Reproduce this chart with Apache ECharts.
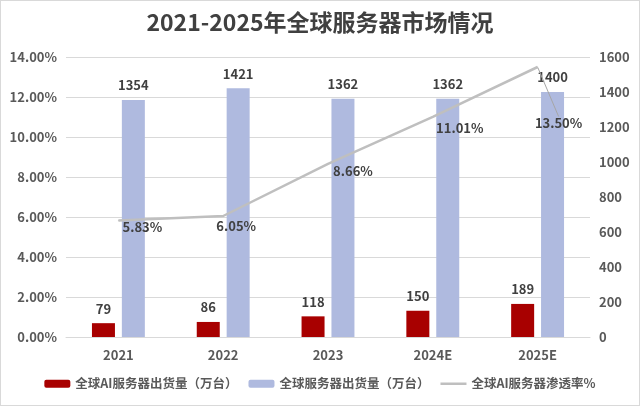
<!DOCTYPE html>
<html><head><meta charset="utf-8">
<script src="https://cdn.jsdelivr.net/npm/echarts@6/dist/echarts.min.js"></script>
<style>html,body{margin:0;padding:0;background:#fff}#c{width:638px;height:404px;border:1px solid #d9d9d9}</style>
</head><body><div id="c"></div>
<script>
const categories = ['2021','2022','2023','2024E','2025E'];
const aiShipments = [79, 86, 118, 150, 189];
const serverShipments = [1354, 1421, 1362, 1362, 1400];
const aiPenetration = [5.83, 6.05, 8.66, 11.01, 13.50];
const leftTicks = {min: 0, max: 14, interval: 2};
const rightTicks = {min: 0, max: 1600, interval: 200};

// label shifts (style only)
const rateLabelShift = [[24,7],[13,10],[25,7],[27,11],[21,56]];

const font = '"Noto Sans CJK SC","Noto Sans",sans-serif';
const chart = echarts.init(document.getElementById('c'));
chart.setOption({
  animation: false,
  backgroundColor: '#fff',
  textStyle: {fontFamily: font},
  title: {
    text: '2021-2025年全球服务器市场情况',
    left: 'center', top: 5,
    textStyle: {fontSize: 23, fontWeight: 'bold', color: '#404040', fontFamily: font}
  },
  legend: {
    bottom: 10, left: 'center',
    itemWidth: 26, itemHeight: 8, itemGap: 11,
    textStyle: {fontSize: 12.5, fontWeight: 'bold', color: '#595959', fontFamily: font},
    data: [
      {name: '全球AI服务器出货量（万台）'},
      {name: '全球服务器出货量（万台）'},
      {name: '全球AI服务器渗透率%', icon: 'path://M0,0h26v2.5h-26z'}
    ]
  },
  grid: {left: 65, right: 49, top: 56, bottom: 68},
  xAxis: {
    type: 'category', data: categories,
    axisLine: {lineStyle: {color: '#d9d9d9'}},
    axisTick: {show: false},
    axisLabel: {fontSize: 13, fontWeight: 'bold', color: '#595959', margin: 12, fontFamily: font}
  },
  yAxis: [
    {type: 'value', min: leftTicks.min, max: leftTicks.max, interval: leftTicks.interval,
     axisLabel: {formatter: v => v.toFixed(2) + '%', fontSize: 13, fontWeight: 'bold', color: '#595959', margin: 9, fontFamily: font},
     splitLine: {lineStyle: {color: '#d9d9d9'}}, axisLine: {show: false}},
    {type: 'value', min: rightTicks.min, max: rightTicks.max, interval: rightTicks.interval,
     axisLabel: {formatter: v => String(v), fontSize: 13, fontWeight: 'bold', color: '#595959', margin: 9, fontFamily: font},
     splitLine: {show: false}, axisLine: {show: false}}
  ],
  series: [
    {name: '全球AI服务器出货量（万台）', type: 'bar', yAxisIndex: 1, data: aiShipments,
     barWidth: 23, barGap: '30%', itemStyle: {color: '#A80000'},
     label: {show: true, position: 'top', distance: 8, fontSize: 13, fontWeight: 'bold', color: '#404040', fontFamily: font}},
    {name: '全球服务器出货量（万台）', type: 'bar', yAxisIndex: 1, data: serverShipments,
     barWidth: 23, barGap: '30%', itemStyle: {color: '#AFBADF'},
     label: {show: true, position: 'top', distance: 8, fontSize: 13, fontWeight: 'bold', color: '#404040', fontFamily: font}},
    {name: '全球AI服务器渗透率%', type: 'line', yAxisIndex: 0, z: 5,
     data: aiPenetration.map((v, i) => i === aiPenetration.length - 1
        ? {value: v, labelLine: {show: true, lineStyle: {color: '#a6a6a6', width: 1}}}
        : {value: v}),
     symbol: 'circle', symbolSize: 1,
     itemStyle: {color: '#BFBFBF'},
     lineStyle: {color: '#BFBFBF', width: 2.5},
     label: {show: true, position: 'inside', formatter: p => p.value.toFixed(2) + '%',
             fontSize: 13, fontWeight: 'bold', color: '#404040', fontFamily: font},
     labelLine: {show: false},
     labelLayout: p => ({dx: rateLabelShift[p.dataIndex][0], dy: rateLabelShift[p.dataIndex][1]})}
  ]
});
</script></body></html>
